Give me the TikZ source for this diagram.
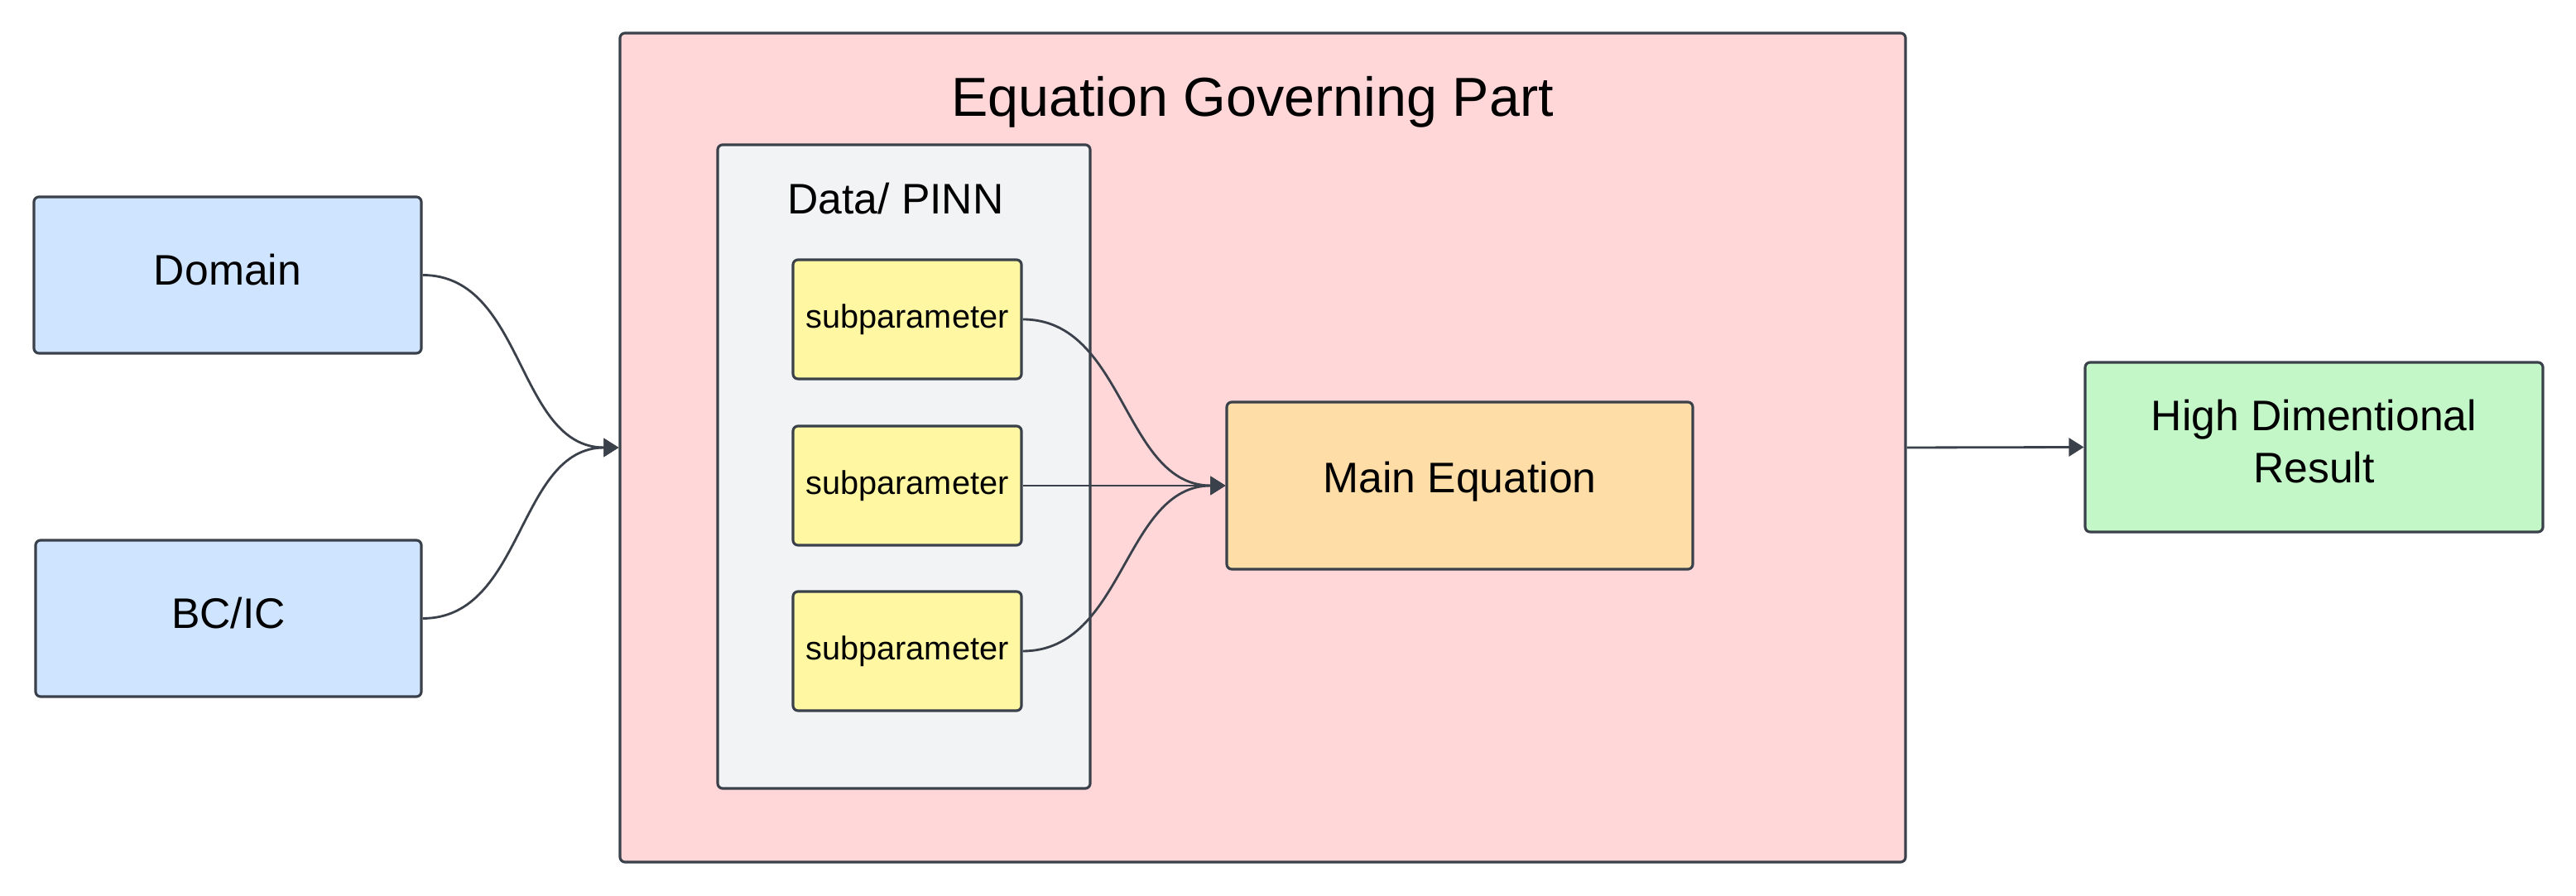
\documentclass[tikz,border=0pt]{standalone}
\usepackage{fontspec}
\setmainfont{Liberation Sans}
\usetikzlibrary{arrows.meta}
\definecolor{edgegray}{HTML}{3A414A}
\definecolor{inblue}{HTML}{CFE4FF}
\definecolor{partred}{HTML}{FFD7D9}
\definecolor{pinngray}{HTML}{F2F3F5}
\definecolor{subyellow}{HTML}{FFF7A1}
\definecolor{eqorange}{HTML}{FFDDA6}
\definecolor{outgreen}{HTML}{C3F7C8}
\tikzset{
  box/.style={draw=edgegray, line width=0.9pt, rounded corners=0.6mm, align=center, inner sep=0pt,
    font=\fontsize{14.7}{17.9}\selectfont},
  link/.style={draw=edgegray, line width=0.8pt, -{Triangle[length=1.8mm,width=2.2mm]}},
}
\begin{document}
\begin{tikzpicture}
\useasboundingbox (0,0) rectangle (31.12,10.83);

\node (gov) at (15.255,5.42) [box, fill=partred, minimum width=15.53cm, minimum height=10.02cm] {};
\node (govt) at (15.13,9.60) [font=\fontsize{18.9}{22}\selectfont] {Equation Governing Part};
\node (pinn) at (10.92,5.19) [box, fill=pinngray, minimum width=4.5cm, minimum height=7.78cm] {};
\node (pinnt) at (10.82,8.43) [font=\fontsize{14.7}{17.9}\selectfont] {Data/ PINN};

\node (dom) at (2.75,7.505) [box, fill=inblue, minimum width=4.68cm, minimum height=1.89cm] {Domain\rule[-4pt]{0pt}{4pt}};
\node (bcic) at (2.76,3.355) [box, fill=inblue, minimum width=4.66cm, minimum height=1.89cm] {BC/IC\rule[-4pt]{0pt}{4pt}};

\node (s1) at (10.96,6.97) [box, fill=subyellow, minimum width=2.76cm, minimum height=1.44cm, font=\fontsize{11.3}{13.5}\selectfont] {subparameter};
\node (s2) at (10.96,4.96) [box, fill=subyellow, minimum width=2.76cm, minimum height=1.44cm, font=\fontsize{11.3}{13.5}\selectfont] {subparameter};
\node (s3) at (10.96,2.96) [box, fill=subyellow, minimum width=2.76cm, minimum height=1.44cm, font=\fontsize{11.3}{13.5}\selectfont] {subparameter};

\node (main) at (17.635,4.96) [box, fill=eqorange, minimum width=5.63cm, minimum height=2.02cm] {Main Equation\rule[-6pt]{0pt}{6pt}};
\node (res) at (27.955,5.425) [box, fill=outgreen, minimum width=5.53cm, minimum height=2.05cm] {High Dimentional\\Result\rule[-4pt]{0pt}{4pt}};

\draw[link] (dom.east) to[out=0,in=180] (gov.west);
\draw[link] (bcic.east) to[out=0,in=180] (gov.west);
\draw[link] (s1.east) to[out=0,in=180] (main.west);
\draw[link] (s2.east) to (main.west);
\draw[link] (s3.east) to[out=0,in=180] (main.west);
\draw[link] (gov.east) to (res.west);
\end{tikzpicture}
\end{document}
